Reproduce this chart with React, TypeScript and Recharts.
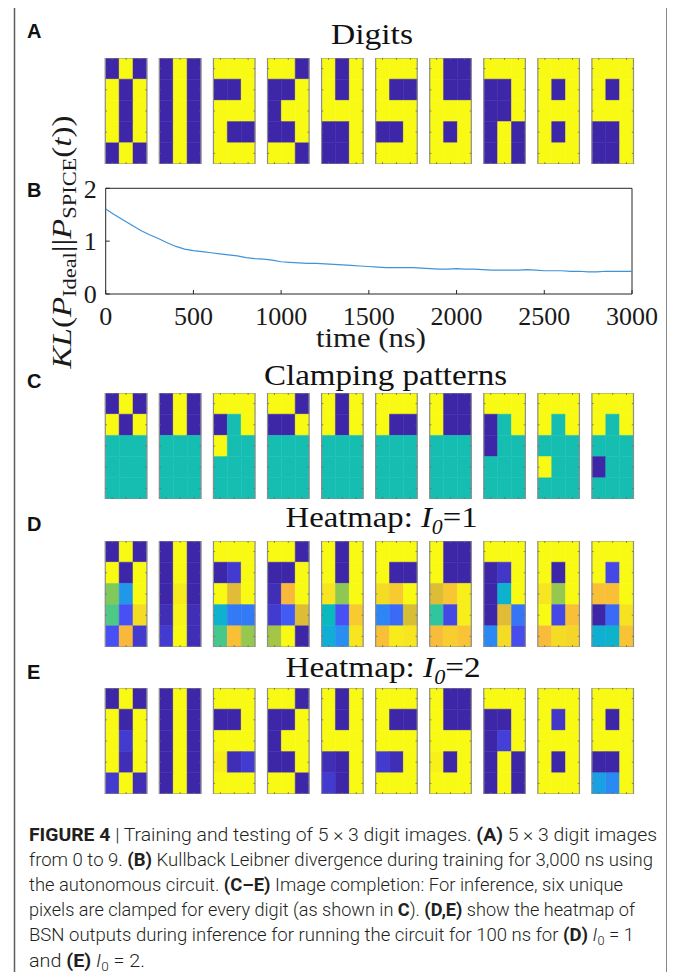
import React from 'react';
import {
  ScatterChart, Scatter, LineChart, Line, XAxis, YAxis, ReferenceArea, ReferenceLine,
} from 'recharts';

// 0 = blue, 1 = yellow, values in between go through parula
const U = 0.43; // unclamped pixel in panel C

const digitsA = [
  [0, 1, 0, 1, 0, 1, 1, 0, 1, 1, 0, 1, 0, 1, 0],
  [0, 1, 0, 0, 1, 0, 0, 1, 0, 0, 1, 0, 0, 1, 0],
  [1, 1, 1, 0, 0, 1, 1, 1, 1, 1, 0, 0, 1, 1, 1],
  [1, 1, 0, 0, 0, 1, 0, 1, 1, 0, 0, 1, 1, 1, 0],
  [1, 0, 1, 1, 0, 1, 1, 1, 1, 0, 0, 1, 0, 0, 1],
  [1, 1, 1, 1, 0, 0, 1, 1, 1, 0, 0, 1, 1, 1, 1],
  [1, 0, 0, 1, 0, 0, 1, 1, 1, 1, 0, 1, 1, 1, 1],
  [1, 1, 1, 0, 0, 1, 0, 0, 1, 0, 1, 0, 0, 1, 0],
  [1, 1, 1, 1, 0, 1, 1, 1, 1, 1, 0, 1, 1, 1, 1],
  [1, 1, 1, 1, 0, 1, 1, 1, 1, 0, 0, 1, 0, 0, 1],
];

const clampC = [
  [0, 1, 0, 1, 0, 1, U, U, U, U, U, U, U, U, U],
  [0, 1, 0, 0, 1, 0, U, U, U, U, U, U, U, U, U],
  [1, 1, 1, 0, U, 1, 1, U, U, U, U, U, U, U, U],
  [1, 1, 0, 0, 0, 1, U, U, U, U, U, U, U, U, U],
  [1, 0, 1, 1, 0, 1, U, U, U, U, U, U, U, U, U],
  [1, 1, 1, 1, 0, 0, U, U, U, U, U, U, U, U, U],
  [1, 0, 0, 1, 0, 0, U, U, U, U, U, U, U, U, U],
  [1, 1, 1, 0, U, 1, 0, U, U, U, U, U, U, U, U],
  [1, 1, 1, 1, U, 1, U, U, U, 1, U, U, U, U, U],
  [1, 1, 1, 1, U, 1, U, U, U, 0, U, U, U, U, U],
];

const heatD = [
  [0, 1, 0, 1, 0, 1, 0.6, 0.25, 1, 0.53, 0.1, 0.9, 0.1, 0.8, 0.05],
  [0, 1, 0, 0, 1, 0, 0, 0.95, 0, 0.02, 0.98, 0.02, 0.05, 1, 0.02],
  [1, 1, 1, 0, 0.05, 1, 1, 0.75, 1, 0.35, 0.18, 0.18, 0.52, 0.82, 0.63],
  [1, 1, 0, 0, 0, 1, 0.02, 0.8, 1, 0.05, 0.12, 0.74, 0.65, 1, 0],
  [1, 0, 1, 1, 0, 1, 0.93, 0.62, 1, 0.4, 0.1, 0.85, 0.33, 0.22, 0.93],
  [1, 1, 1, 1, 0, 0, 0.9, 0.85, 1, 0.2, 0.15, 0.73, 0.82, 0.95, 0.93],
  [1, 0, 0, 1, 0, 0, 0.74, 0.84, 0.96, 0.48, 0.08, 0.96, 0.81, 0.86, 0.83],
  [1, 1, 1, 0, 0.04, 1, 0, 0.35, 1, 0, 0.75, 0.17, 0.21, 0.9, 0.09],
  [1, 1, 1, 1, 0, 1, 0.93, 0.63, 1, 1, 0.08, 0.82, 0.81, 0.9, 0.88],
  [1, 1, 1, 1, 0.08, 1, 0.82, 0.82, 1, 0, 0.15, 0.92, 0.34, 0.36, 0.83],
];

const heatE = [
  [0, 1, 0, 1, 0, 1, 1, 0.05, 1, 1, 0.02, 1, 0.05, 1, 0.02],
  [0, 1, 0, 0, 1, 0, 0, 1, 0, 0, 1, 0, 0, 1, 0],
  [1, 1, 1, 0, 0, 1, 1, 1, 1, 0.96, 0.02, 0.05, 1, 1, 1],
  [1, 1, 0, 0, 0, 1, 0, 1, 1, 0, 0, 1, 1, 1, 0],
  [1, 0, 1, 1, 0, 1, 1, 1, 1, 0.02, 0, 1, 0.05, 0, 1],
  [1, 1, 1, 1, 0, 0, 1, 1, 1, 0.05, 0.02, 1, 1, 1, 1],
  [1, 0, 0, 1, 0, 0, 1, 1, 1, 0.97, 0, 1, 1, 1, 1],
  [1, 1, 1, 0, 0, 1, 0, 0.06, 1, 0, 1, 0, 0, 1, 0],
  [1, 1, 1, 1, 0.04, 1, 1, 1, 1, 1, 0, 1, 1, 1, 1],
  [1, 1, 1, 1, 0, 1, 1, 1, 1, 0, 0, 1, 0.28, 0.21, 1],
];

const timeNs = [
  0, 50, 100, 150, 200, 250, 300, 350, 400, 450, 500, 550, 600, 650, 700, 750,
  800, 850, 900, 950, 1000, 1050, 1100, 1150, 1200, 1250, 1300, 1350, 1400, 1450,
  1500, 1550, 1600, 1650, 1700, 1750, 1800, 1850, 1900, 1950, 2000, 2050, 2100,
  2150, 2200, 2250, 2300, 2350, 2400, 2450, 2500, 2550, 2600, 2650, 2700, 2750,
  2800, 2850, 2900, 2950, 3000,
];
const klValues = [
  1.61, 1.5, 1.4, 1.3, 1.2, 1.12, 1.05, 0.97, 0.9, 0.85, 0.82, 0.8, 0.78, 0.76, 0.74, 0.72,
  0.69, 0.67, 0.66, 0.64, 0.61, 0.6, 0.59, 0.58, 0.58, 0.57, 0.56, 0.55, 0.54, 0.53,
  0.52, 0.51, 0.5, 0.5, 0.5, 0.5, 0.49, 0.48, 0.47, 0.47, 0.48, 0.47, 0.47,
  0.46, 0.45, 0.45, 0.45, 0.45, 0.46, 0.45, 0.44, 0.44, 0.44, 0.43, 0.43, 0.42,
  0.42, 0.43, 0.43, 0.43, 0.43,
];
const xTicks = [0, 500, 1000, 1500, 2000, 2500, 3000];
const yTicks = [0, 1, 2];

const klData = timeNs.map((t, i) => ({ t, kl: klValues[i] }));

// parula stops: position, r, g, b
const PARULA = [
  [0.0, 62, 38, 168],
  [0.1, 72, 80, 245],
  [0.2, 46, 134, 246],
  [0.3, 20, 168, 222],
  [0.4, 8, 186, 190],
  [0.5, 56, 200, 151],
  [0.6, 128, 202, 92],
  [0.7, 200, 192, 48],
  [0.8, 249, 184, 60],
  [0.9, 245, 220, 36],
  [1.0, 249, 250, 20],
];

function parula(v: number) {
  for (let i = 1; i < PARULA.length; i++) {
    const [p1, r1, g1, b1] = PARULA[i];
    const [p0, r0, g0, b0] = PARULA[i - 1];
    if (v <= p1) {
      const f = (v - p0) / (p1 - p0);
      return `rgb(${Math.round(r0 + f * (r1 - r0))},${Math.round(g0 + f * (g1 - g0))},${Math.round(b0 + f * (b1 - b0))})`;
    }
  }
  return 'rgb(249,250,20)';
}

const PITCH = 3.9;
const GRID_LEFT = 105.3;
const GRID_RIGHT = 633.5;
const GRID_H = 106;
const TICK_X = 0.12; // tick length in column units
const TICK_Y = 0.09; // tick length in row units

function DigitRow({ cells, top }: { cells: number[][]; top: number }) {
  const xMax = (cells.length - 1) * PITCH + 3;
  // one point per pixel centre; the pixels themselves are reference areas on the same scales
  const centres = cells.flatMap((digit, d) =>
    digit.map((v, i) => ({ x: d * PITCH + (i % 3) + 0.5, y: Math.floor(i / 3) + 0.5, v })),
  );
  const ticks: { key: string; seg: { x: number; y: number }[] }[] = [];
  cells.forEach((_, d) => {
    const x0 = d * PITCH;
    [0.5, 1.5, 2.5].forEach((c) => {
      ticks.push({ key: `t${d}-${c}`, seg: [{ x: x0 + c, y: 0 }, { x: x0 + c, y: TICK_Y }] });
      ticks.push({ key: `b${d}-${c}`, seg: [{ x: x0 + c, y: 5 }, { x: x0 + c, y: 5 - TICK_Y }] });
    });
    [0.5, 1.5, 2.5, 3.5, 4.5].forEach((r) => {
      ticks.push({ key: `l${d}-${r}`, seg: [{ x: x0, y: r }, { x: x0 + TICK_X, y: r }] });
      ticks.push({ key: `r${d}-${r}`, seg: [{ x: x0 + 3, y: r }, { x: x0 + 3 - TICK_X, y: r }] });
    });
  });
  return (
    <div style={{ position: 'absolute', left: 0, top }}>
      <ScatterChart
        width={675}
        height={GRID_H}
        margin={{ top: 0, right: 675 - GRID_RIGHT, bottom: 0, left: GRID_LEFT }}
      >
        <XAxis type="number" dataKey="x" domain={[0, xMax]} allowDataOverflow hide />
        <YAxis type="number" dataKey="y" domain={[0, 5]} allowDataOverflow reversed hide />
        <Scatter data={centres} shape={() => <g />} isAnimationActive={false} />
        {cells.flatMap((digit, d) =>
          digit.map((v, i) => {
            const r = Math.floor(i / 3);
            const c = i % 3;
            const x0 = d * PITCH + c;
            return (
              <ReferenceArea
                key={`${d}-${i}`}
                x1={x0}
                x2={x0 + 1}
                y1={r}
                y2={r + 1}
                fill={parula(v)}
                fillOpacity={1}
                stroke={parula(v)}
                strokeWidth={0.5}
                ifOverflow="visible"
              />
            );
          }),
        )}
        {ticks.map((t) => (
          <ReferenceLine key={t.key} segment={t.seg} stroke="#6a6a6a" strokeWidth={0.8} ifOverflow="visible" />
        ))}
        {cells.map((_, d) => (
          <ReferenceArea
            key={`frame-${d}`}
            x1={d * PITCH}
            x2={d * PITCH + 3}
            y1={0}
            y2={5}
            fill="none"
            fillOpacity={0}
            stroke="#8e8e8e"
            strokeWidth={1.2}
            ifOverflow="visible"
          />
        ))}
      </ScatterChart>
    </div>
  );
}

const serif = '"Liberation Serif", "Times New Roman", serif';
const tickStyle = { fill: '#1a1a1a', fontSize: 26, fontFamily: serif };

function KLChart() {
  return (
    <div style={{ position: 'absolute', left: 0, top: 160 }}>
      <LineChart width={675} height={200} data={klData} margin={{ top: 28.3, right: 43, bottom: 6, left: 0 }}>
        <XAxis
          xAxisId="b"
          dataKey="t"
          type="number"
          domain={[0, 3000]}
          ticks={xTicks}
          height={60}
          axisLine={false}
          tickLine={{ stroke: '#262626' }}
          tickSize={-4}
          tickMargin={17}
          tick={tickStyle}
        />
        <XAxis
          xAxisId="top"
          orientation="top"
          dataKey="t"
          type="number"
          domain={[0, 3000]}
          ticks={xTicks}
          height={0}
          axisLine={false}
          tickLine={{ stroke: '#262626' }}
          tickSize={-4}
          tickFormatter={() => ''}
        />
        <YAxis
          yAxisId="l"
          type="number"
          domain={[0, 2]}
          ticks={yTicks}
          width={105.7}
          axisLine={false}
          tickLine={{ stroke: '#262626' }}
          tickSize={-4}
          tickMargin={13}
          tick={tickStyle}
        />
        <YAxis
          yAxisId="r"
          orientation="right"
          type="number"
          domain={[0, 2]}
          ticks={yTicks}
          width={0}
          axisLine={false}
          tickLine={{ stroke: '#262626' }}
          tickSize={-4}
          tickFormatter={() => ''}
        />
        <ReferenceArea
          xAxisId="b"
          yAxisId="l"
          x1={0}
          x2={3000}
          y1={0}
          y2={2}
          fill="none"
          fillOpacity={0}
          stroke="#262626"
          strokeWidth={1}
        />
        <Line
          xAxisId="b"
          yAxisId="l"
          type="linear"
          dataKey="kl"
          stroke="#3f93d8"
          strokeWidth={1.2}
          dot={false}
          isAnimationActive={false}
        />
      </LineChart>
    </div>
  );
}

const sans = 'Roboto, "Liberation Sans", Arial, sans-serif';

function Overlay() {
  const letter = { fontFamily: '"Liberation Sans", Arial, sans-serif', fontWeight: 700, fontSize: 20, fill: '#111' };
  const title = { fontFamily: serif, fontSize: 30, fill: '#111' };
  const cap = { fontFamily: sans, fontWeight: 300, fontSize: 19, fill: '#231f20' };
  const b = { fontWeight: 700 };
  return (
    <svg width={675} height={980} style={{ position: 'absolute', left: 0, top: 0, pointerEvents: 'none' }}>
      <rect x={14.5} y={6.5} width={652.5} height={1000} fill="none" stroke="#5e5e5e" strokeWidth={1.5} />
      <text x={27} y={38} {...letter}>A</text>
      <text x={27} y={197} {...letter}>B</text>
      <text x={27} y={388} {...letter}>C</text>
      <text x={27} y={531} {...letter}>D</text>
      <text x={27} y={679} {...letter}>E</text>

      <text x={331} y={44} textLength={82} lengthAdjust="spacingAndGlyphs" {...title}>Digits</text>
      <text x={264} y={385} textLength={243} lengthAdjust="spacingAndGlyphs" {...title}>Clamping patterns</text>
      <text x={285.6} y={526.7} textLength={192} lengthAdjust="spacingAndGlyphs" {...title}>
        Heatmap: <tspan fontStyle="italic">I</tspan>
        <tspan fontStyle="italic" fontSize={20} dy={7}>0</tspan>
        <tspan dy={-7}>=1</tspan>
      </text>
      <text x={285.6} y={676.7} textLength={195} lengthAdjust="spacingAndGlyphs" {...title}>
        Heatmap: <tspan fontStyle="italic">I</tspan>
        <tspan fontStyle="italic" fontSize={20} dy={7}>0</tspan>
        <tspan dy={-7}>=2</tspan>
      </text>

      <text
        x={71}
        y={242}
        transform="rotate(-90 71 242)"
        textAnchor="middle"
        textLength={253}
        lengthAdjust="spacingAndGlyphs"
        fontFamily={serif}
        fontSize={28}
        fill="#1a1a1a"
      >
        <tspan fontStyle="italic">KL</tspan>(<tspan fontStyle="italic">P</tspan>
        <tspan fontSize={19} dy={5}>Ideal</tspan>
        <tspan dy={-5}>||</tspan>
        <tspan fontStyle="italic">P</tspan>
        <tspan fontSize={19} dy={5}>SPICE</tspan>
        <tspan dy={-5}>(</tspan>
        <tspan fontStyle="italic">t</tspan>))
      </text>
      <text x={371} y={347} textAnchor="middle" textLength={110} lengthAdjust="spacingAndGlyphs" fontFamily={serif} fontSize={28} fill="#1a1a1a">
        time (ns)
      </text>

      <text x={29} y={841} textLength={628} lengthAdjust="spacingAndGlyphs" {...cap}>
        <tspan {...b}>FIGURE 4</tspan> | Training and testing of 5 × 3 digit images. <tspan {...b}>(A)</tspan> 5 × 3 digit images
      </text>
      <text x={29} y={866} textLength={624} lengthAdjust="spacingAndGlyphs" {...cap}>
        from 0 to 9. <tspan {...b}>(B)</tspan> Kullback Leibner divergence during training for 3,000 ns using
      </text>
      <text x={29} y={891} textLength={594} lengthAdjust="spacingAndGlyphs" {...cap}>
        the autonomous circuit. <tspan {...b}>(C–E)</tspan> Image completion: For inference, six unique
      </text>
      <text x={29} y={916} textLength={606} lengthAdjust="spacingAndGlyphs" {...cap}>
        pixels are clamped for every digit (as shown in <tspan {...b}>C</tspan>). <tspan {...b}>(D,E)</tspan> show the heatmap of
      </text>
      <text x={29} y={941} textLength={605} lengthAdjust="spacingAndGlyphs" {...cap}>
        BSN outputs during inference for running the circuit for 100 ns for <tspan {...b}>(D)</tspan>{' '}
        <tspan fontStyle="italic">I</tspan><tspan fontSize={13} dy={4}>0</tspan><tspan dy={-4}> = 1</tspan>
      </text>
      <text x={29} y={967} textLength={116} lengthAdjust="spacingAndGlyphs" {...cap}>
        and <tspan {...b}>(E)</tspan>{' '}
        <tspan fontStyle="italic">I</tspan><tspan fontSize={13} dy={4}>0</tspan><tspan dy={-4}> = 2.</tspan>
      </text>
    </svg>
  );
}

export default function App() {
  return (
    <div style={{ position: 'relative', width: 675, height: 980, margin: -8, overflow: 'hidden', background: '#fff' }}>
      <DigitRow cells={digitsA} top={58.3} />
      <KLChart />
      <DigitRow cells={clampC} top={393.3} />
      <DigitRow cells={heatD} top={540.7} />
      <DigitRow cells={heatE} top={687.5} />
      <Overlay />
    </div>
  );
}
